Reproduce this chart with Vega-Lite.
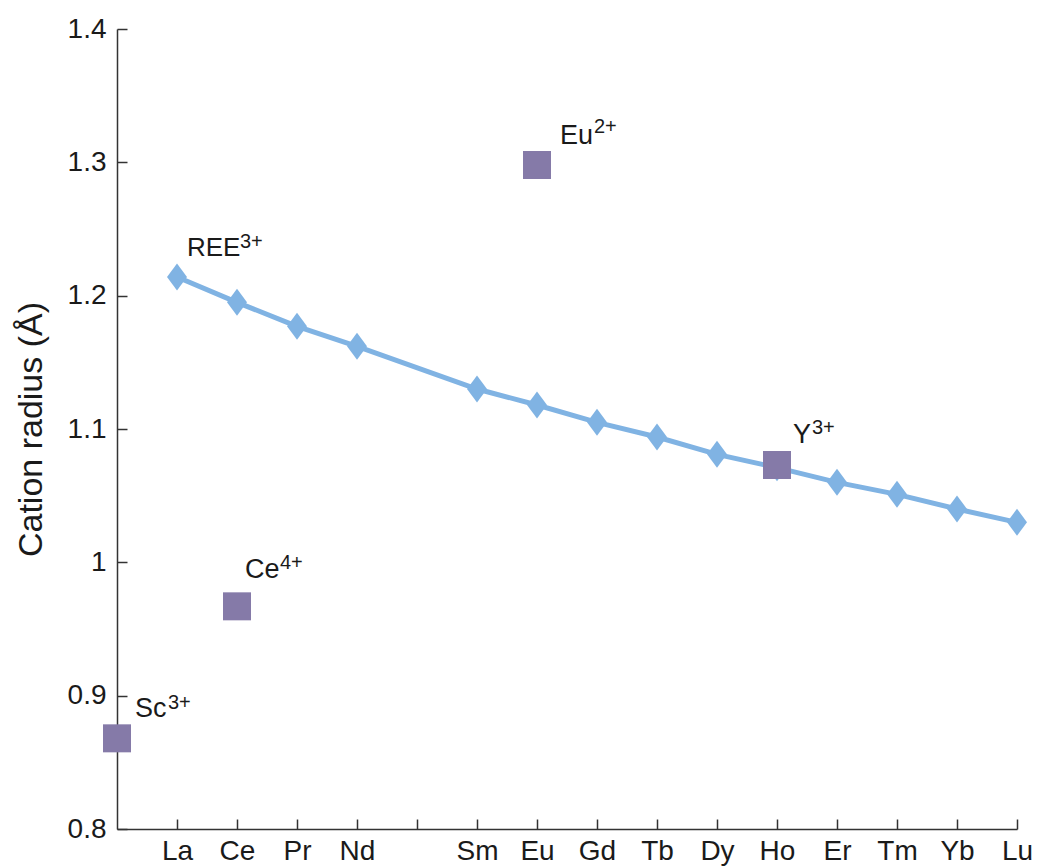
{
  "$schema": "https://vega.github.io/schema/vega-lite/v6.json",
  "width": 900,
  "height": 800,
  "autosize": "none",
  "padding": {"left": 117, "top": 29, "right": 22, "bottom": 39},
  "background": "white",
  "config": {
    "font": "Liberation Sans",
    "view": {"stroke": null},
    "axis": {"grid": false, "domainColor": "#333333", "tickColor": "#333333", "labelColor": "#1a1a1a", "titleColor": "#1a1a1a", "labelFont": "Liberation Sans", "titleFont": "Liberation Sans", "domainWidth": 1.5, "tickWidth": 1.5}
  },
  "datasets": {
    "ree": [
      {"element": "La", "idx": 1, "radius": 1.214},
      {"element": "Ce", "idx": 2, "radius": 1.195},
      {"element": "Pr", "idx": 3, "radius": 1.177},
      {"element": "Nd", "idx": 4, "radius": 1.162},
      {"element": "Sm", "idx": 6, "radius": 1.130},
      {"element": "Eu", "idx": 7, "radius": 1.118},
      {"element": "Gd", "idx": 8, "radius": 1.105},
      {"element": "Tb", "idx": 9, "radius": 1.094},
      {"element": "Dy", "idx": 10, "radius": 1.081},
      {"element": "Ho", "idx": 11, "radius": 1.071},
      {"element": "Er", "idx": 12, "radius": 1.060},
      {"element": "Tm", "idx": 13, "radius": 1.051},
      {"element": "Yb", "idx": 14, "radius": 1.040},
      {"element": "Lu", "idx": 15, "radius": 1.030}
    ],
    "ions": [
      {"ion": "Sc", "charge": "3+", "idx": 0, "radius": 0.868},
      {"ion": "Ce", "charge": "4+", "idx": 2, "radius": 0.967},
      {"ion": "Eu", "charge": "2+", "idx": 7, "radius": 1.298},
      {"ion": "Y", "charge": "3+", "idx": 11, "radius": 1.073}
    ]
  },
  "layer": [
    {
      "data": {"name": "ree"},
      "mark": {"type": "line", "color": "#80B3E3", "strokeWidth": 5},
      "encoding": {
        "x": {
          "field": "idx", "type": "quantitative",
          "scale": {"domain": [0, 15], "nice": false, "zero": false},
          "axis": {
            "title": null,
            "values": [1, 2, 3, 4, 5, 6, 7, 8, 9, 10, 11, 12, 13, 14, 15],
            "labelExpr": "['','La','Ce','Pr','Nd','','Sm','Eu','Gd','Tb','Dy','Ho','Er','Tm','Yb','Lu'][datum.value]",
            "tickSize": -10,
            "labelPadding": 18,
            "labelFontSize": 28,
            "labelBaseline": "top",
            "labelFlush": false,
            "labelOverlap": false
          }
        },
        "y": {
          "field": "radius", "type": "quantitative",
          "scale": {"domain": [0.8, 1.4], "nice": false, "zero": false},
          "axis": {
            "title": "Cation radius (Å)",
            "values": [0.8, 0.9, 1, 1.1, 1.2, 1.3, 1.4],
            "format": ".1~f",
            "tickSize": -10,
            "labelPadding": 21,
            "labelFontSize": 28,
            "labelFlush": false,
            "labelOverlap": false,
            "titleFontSize": 34,
            "titleFontWeight": "normal",
            "titlePadding": 19
          }
        }
      }
    },
    {
      "data": {"name": "ree"},
      "mark": {"type": "point", "shape": "M0,-1.35L1,0L0,1.35L-1,0Z", "filled": true, "opacity": 1, "color": "#80B3E3", "size": 400},
      "encoding": {
        "x": {"field": "idx", "type": "quantitative"},
        "y": {"field": "radius", "type": "quantitative"}
      }
    },
    {
      "data": {"name": "ions"},
      "mark": {"type": "square", "filled": true, "opacity": 1, "color": "#857AA8", "size": 784},
      "encoding": {
        "x": {"field": "idx", "type": "quantitative"},
        "y": {"field": "radius", "type": "quantitative"}
      }
    },
    {
      "data": {"name": "ree"},
      "transform": [{"filter": "datum.element === 'La'"}],
      "mark": {"type": "text", "text": "REE", "align": "left", "baseline": "alphabetic", "dx": 10, "dy": -21, "fontSize": 26, "color": "#1a1a1a"},
      "encoding": {
        "x": {"field": "idx", "type": "quantitative"},
        "y": {"field": "radius", "type": "quantitative"}
      }
    },
    {
      "data": {"name": "ree"},
      "transform": [{"filter": "datum.element === 'La'"}],
      "mark": {"type": "text", "text": "3+", "align": "left", "baseline": "alphabetic", "dx": 63, "dy": -29, "fontSize": 20, "color": "#1a1a1a"},
      "encoding": {
        "x": {"field": "idx", "type": "quantitative"},
        "y": {"field": "radius", "type": "quantitative"}
      }
    },
    {
      "data": {"name": "ions"},
      "transform": [{"filter": "datum.ion === 'Ce'"}],
      "mark": {"type": "text", "align": "left", "baseline": "alphabetic", "dx": 8, "dy": -28, "fontSize": 27, "color": "#1a1a1a"},
      "encoding": {
        "x": {"field": "idx", "type": "quantitative"},
        "y": {"field": "radius", "type": "quantitative"},
        "text": {"field": "ion"}
      }
    },
    {
      "data": {"name": "ions"},
      "transform": [{"filter": "datum.ion === 'Ce'"}],
      "mark": {"type": "text", "align": "left", "baseline": "alphabetic", "dx": 43, "dy": -37, "fontSize": 20, "color": "#1a1a1a"},
      "encoding": {
        "x": {"field": "idx", "type": "quantitative"},
        "y": {"field": "radius", "type": "quantitative"},
        "text": {"field": "charge"}
      }
    },
    {
      "data": {"name": "ions"},
      "transform": [{"filter": "datum.ion === 'Eu'"}],
      "mark": {"type": "text", "align": "left", "baseline": "alphabetic", "dx": 23, "dy": -21, "fontSize": 27, "color": "#1a1a1a"},
      "encoding": {
        "x": {"field": "idx", "type": "quantitative"},
        "y": {"field": "radius", "type": "quantitative"},
        "text": {"field": "ion"}
      }
    },
    {
      "data": {"name": "ions"},
      "transform": [{"filter": "datum.ion === 'Eu'"}],
      "mark": {"type": "text", "align": "left", "baseline": "alphabetic", "dx": 57, "dy": -32, "fontSize": 20, "color": "#1a1a1a"},
      "encoding": {
        "x": {"field": "idx", "type": "quantitative"},
        "y": {"field": "radius", "type": "quantitative"},
        "text": {"field": "charge"}
      }
    },
    {
      "data": {"name": "ions"},
      "transform": [{"filter": "datum.ion === 'Y'"}],
      "mark": {"type": "text", "align": "left", "baseline": "alphabetic", "dx": 16, "dy": -22, "fontSize": 27, "color": "#1a1a1a"},
      "encoding": {
        "x": {"field": "idx", "type": "quantitative"},
        "y": {"field": "radius", "type": "quantitative"},
        "text": {"field": "ion"}
      }
    },
    {
      "data": {"name": "ions"},
      "transform": [{"filter": "datum.ion === 'Y'"}],
      "mark": {"type": "text", "align": "left", "baseline": "alphabetic", "dx": 35, "dy": -31, "fontSize": 20, "color": "#1a1a1a"},
      "encoding": {
        "x": {"field": "idx", "type": "quantitative"},
        "y": {"field": "radius", "type": "quantitative"},
        "text": {"field": "charge"}
      }
    },
    {
      "data": {"name": "ions"},
      "transform": [{"filter": "datum.ion === 'Sc'"}],
      "mark": {"type": "text", "align": "left", "baseline": "alphabetic", "dx": 18, "dy": -21, "fontSize": 27, "color": "#1a1a1a"},
      "encoding": {
        "x": {"field": "idx", "type": "quantitative"},
        "y": {"field": "radius", "type": "quantitative"},
        "text": {"field": "ion"}
      }
    },
    {
      "data": {"name": "ions"},
      "transform": [{"filter": "datum.ion === 'Sc'"}],
      "mark": {"type": "text", "align": "left", "baseline": "alphabetic", "dx": 51, "dy": -29, "fontSize": 20, "color": "#1a1a1a"},
      "encoding": {
        "x": {"field": "idx", "type": "quantitative"},
        "y": {"field": "radius", "type": "quantitative"},
        "text": {"field": "charge"}
      }
    }
  ]
}
